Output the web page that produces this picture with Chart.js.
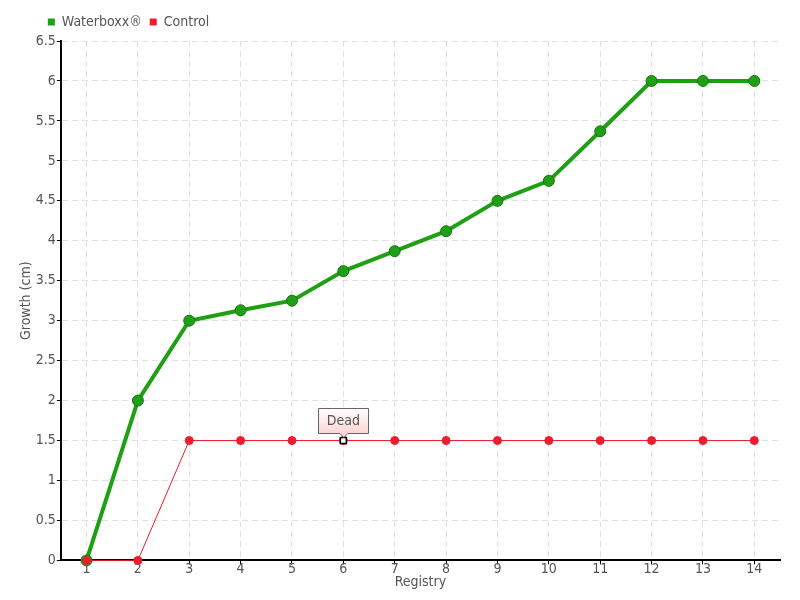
<!DOCTYPE html>
<html>
<head>
<meta charset="utf-8">
<script src="https://cdn.jsdelivr.net/npm/chart.js@4"></script>
<style>
    html, body { margin: 0; padding: 0; background: #fff; }
    #wrap { width: 800px; height: 600px; }
</style>
</head>
<body>
<div id="wrap"><canvas id="myChart" width="800" height="600"></canvas></div>
<script>
const registry = ['1', '2', '3', '4', '5', '6', '7', '8', '9', '10', '11', '12', '13', '14'];
const waterboxx = [0, 2, 3, 3.13, 3.25, 3.62, 3.87, 4.12, 4.5, 4.75, 5.37, 6, 6, 6];
const control = [0, 0, 1.5, 1.5, 1.5, 1.5, 1.5, 1.5, 1.5, 1.5, 1.5, 1.5, 1.5, 1.5];
const noteIndex = 5;
const noteText = 'Dead';

const fontFamily = '"Liberation Sans Narrow", "DejaVu Sans Condensed", sans-serif';
const textColor = '#555';

// callout box above the control point that died
const deadNote = {
    id: 'deadNote',
    afterDatasetsDraw(chart) {
        const ctx = chart.ctx;
        const x = chart.scales.x.getPixelForValue(noteIndex);
        const y = chart.scales.y.getPixelForValue(control[noteIndex]);

        ctx.save();
        // marked point
        ctx.fillStyle = '#fff';
        ctx.strokeStyle = '#000';
        ctx.lineWidth = 1.5;
        ctx.fillRect(x - 3, y - 3, 6, 6);
        ctx.strokeRect(x - 3, y - 3, 6, 6);

        // box
        const w = 50, h = 25;
        const bx = Math.round(x - w / 2), by = Math.round(y - 8 - h);
        const grad = ctx.createLinearGradient(0, by, 0, by + h);
        grad.addColorStop(0, '#ffffff');
        grad.addColorStop(1, '#fcd6d6');
        ctx.beginPath();
        ctx.moveTo(bx + 0.5, by + 0.5);
        ctx.lineTo(bx + w + 0.5, by + 0.5);
        ctx.lineTo(bx + w + 0.5, by + h + 0.5);
        ctx.lineTo(x + 4.5, by + h + 0.5);
        ctx.lineTo(x + 0.5, by + h + 4.5);
        ctx.lineTo(x - 3.5, by + h + 0.5);
        ctx.lineTo(bx + 0.5, by + h + 0.5);
        ctx.closePath();
        ctx.fillStyle = grad;
        ctx.fill();
        ctx.strokeStyle = '#666';
        ctx.lineWidth = 1;
        ctx.stroke();

        ctx.fillStyle = textColor;
        ctx.font = '14px ' + fontFamily;
        ctx.textAlign = 'center';
        ctx.textBaseline = 'middle';
        ctx.fillText(noteText, x, by + h / 2 + 1);
        ctx.restore();
    }
};

// legend starts just left of the plot, not at the canvas edge
const legendShift = {
    id: 'legendShift',
    afterLayout(chart) {
        const shift = chart.chartArea.left - 11 - chart.legend.left - 10;
        chart.legend.left += shift;
        chart.legend.right += shift;
        chart.legend.top -= 2;
        chart.legend.bottom -= 2;
    }
};

const ctx = document.getElementById('myChart');
new Chart(ctx, {
    type: 'line',
    data: {
        labels: registry,
        datasets: [
            {
                label: 'Waterboxx®',
                data: waterboxx,
                borderColor: '#1fa014',
                backgroundColor: '#1fa014',
                borderWidth: 4,
                pointRadius: 5.5,
                pointBackgroundColor: '#1f9f14',
                pointBorderColor: '#17740f',
                pointBorderWidth: 1,
                tension: 0,
                clip: false,
                order: 2,
            },
            {
                label: 'Control',
                data: control,
                borderColor: '#ee1c2c',
                backgroundColor: '#ee1c2c',
                borderWidth: 1,
                pointRadius: 4,
                pointBackgroundColor: '#ee1c2c',
                pointBorderColor: '#ee1c2c',
                pointBorderWidth: 1,
                tension: 0,
                clip: false,
                order: 1,
            },
        ],
    },
    options: {
        responsive: false,
        animation: false,
        layout: { padding: { left: 18, right: 20, top: 9, bottom: 9 } },
        plugins: {
            legend: {
                align: 'start',
                labels: {
                    boxWidth: 7,
                    boxHeight: 7,
                    padding: 8,
                    color: textColor,
                    font: { family: fontFamily, size: 14 },
                    generateLabels: (chart) =>
                        Chart.defaults.plugins.legend.labels.generateLabels(chart)
                            .map((item) => ({ ...item, lineWidth: 0 })),
                    sort: (a, b) => a.datasetIndex - b.datasetIndex,
                },
            },
            tooltip: { enabled: false },
        },
        scales: {
            x: {
                offset: true,
                border: { color: '#000', width: 2, dash: [6, 4] },
                grid: {
                    color: '#e0e0e0',
                    tickColor: '#000',
                    tickLength: 4,
                },
                ticks: { color: textColor, font: { family: fontFamily, size: 14 }, padding: -3 },
                title: {
                    display: true,
                    text: 'Registry',
                    color: textColor,
                    font: { family: fontFamily, size: 14 },
                    padding: { top: -1, bottom: 0 },
                },
            },
            y: {
                min: 0,
                max: 6.5,
                border: { color: '#000', width: 2, dash: [6, 4] },
                grid: {
                    color: '#e0e0e0',
                    tickColor: '#000',
                    tickLength: 4,
                },
                ticks: {
                    stepSize: 0.5,
                    color: textColor,
                    font: { family: fontFamily, size: 14 },
                    padding: 1,
                    callback: (v) => String(v),
                },
                title: {
                    display: true,
                    text: 'Growth (cm)',
                    color: textColor,
                    font: { family: fontFamily, size: 14 },
                    padding: 0,
                },
            },
        },
    },
    plugins: [deadNote, legendShift],
});
</script>
</body>
</html>
